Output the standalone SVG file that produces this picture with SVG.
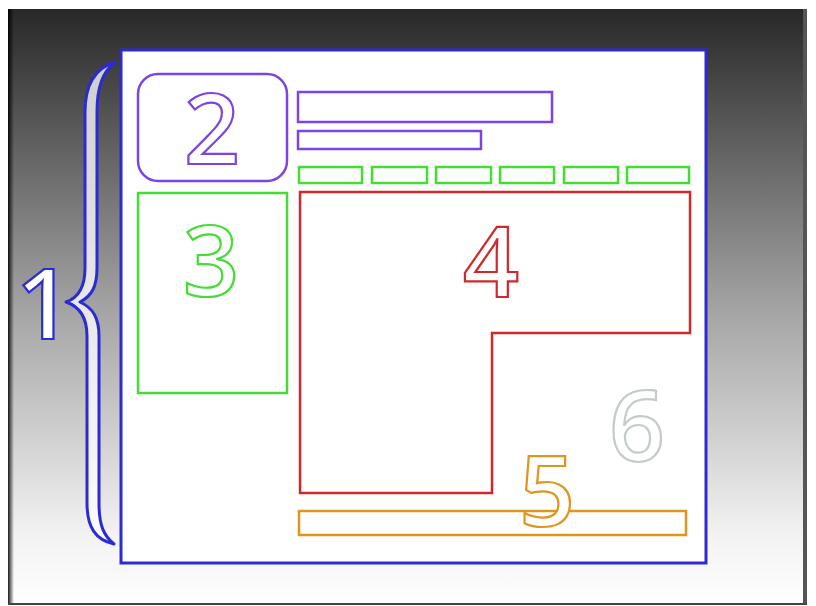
<svg xmlns="http://www.w3.org/2000/svg" width="816" height="606" viewBox="0 0 816 606">
  <defs>
    <linearGradient id="bg" x1="0" y1="0" x2="0" y2="1">
      <stop offset="0" stop-color="#282828"/>
      <stop offset="0.5" stop-color="#a3a3a3"/>
      <stop offset="0.88" stop-color="#f2f2f2"/>
      <stop offset="1" stop-color="#ffffff"/>
    </linearGradient>
    <linearGradient id="ledge" x1="0" y1="0" x2="1" y2="0">
      <stop offset="0" stop-color="#000" stop-opacity="0.9"/>
      <stop offset="1" stop-color="#000" stop-opacity="0"/>
    </linearGradient>
  </defs>
  <style>
    .box { fill: none; stroke-width: 2.5; }
    .num { font-family: "Open Sans", "Liberation Sans", sans-serif; font-size: 98px; font-weight: 600; fill: #ffffff; stroke-width: 2.2; text-anchor: middle; }
    .blue { stroke: #2b2bd6; }
    .purple { stroke: #7c45e2; }
    .green { stroke: #45dc35; }
    .red { stroke: #d0282c; }
    .orange { stroke: #e0961e; }
    .gray { stroke: #c3cbcb; }
  </style>
  <rect x="0" y="0" width="816" height="606" fill="#ffffff"/>
  <g id="frame">
    <rect x="8" y="9" width="799" height="596" fill="url(#bg)"/>
    <rect x="8" y="9" width="6" height="596" fill="url(#ledge)"/>
    <rect x="803" y="9" width="4" height="596" fill="#555"/>
    <rect x="8" y="603" width="799" height="2" fill="#444"/>
  </g>
  <g id="node1">
    <rect x="121" y="50" width="585" height="513" fill="#ffffff" stroke="#2b2bd6" stroke-width="3"/>
    <path d="M115,62 C95,68 85,84 85,112 L85,268 C85,288 78,298 66,302 C78,306 87,316 87,336 L87,503 C87,528 96,540 114,544 C104,536 99,526 99,503 L99,336 C99,318 93,308 80,302 C92,296 97,286 97,268 L97,112 C97,86 103,72 115,62 Z" fill="#ffffff" fill-opacity="0.75" stroke="#2b2bd6" stroke-width="3" stroke-linejoin="round"/>
    <text class="num blue" x="44" y="339">1</text>
  </g>
  <g id="node2">
    <rect class="box purple" x="138" y="74" width="149" height="107" rx="20"/>
    <rect class="box purple" x="298" y="92" width="254" height="30"/>
    <rect class="box purple" x="298" y="131" width="183" height="18"/>
    <text class="num purple" x="212" y="164">2</text>
  </g>
  <g id="nav">
    <rect class="box green" x="299" y="167" width="63" height="16"/>
    <rect class="box green" x="372" y="167" width="55" height="16"/>
    <rect class="box green" x="436" y="167" width="55" height="16"/>
    <rect class="box green" x="500" y="167" width="54" height="16"/>
    <rect class="box green" x="564" y="167" width="54" height="16"/>
    <rect class="box green" x="627" y="167" width="62" height="16"/>
  </g>
  <g id="node3">
    <rect class="box green" x="138" y="193" width="149" height="200"/>
    <text class="num green" x="211" y="296">3</text>
  </g>
  <g id="node4">
    <path class="box red" d="M300,192 L690,192 L690,333 L492,333 L492,493 L300,493 Z"/>
    <text class="num red" x="491" y="297">4</text>
  </g>
  <g id="node5">
    <rect class="box orange" x="299" y="511" width="387" height="24"/>
    <text class="num orange" x="547" y="526">5</text>
  </g>
  <g id="node6">
    <text class="num gray" x="637" y="461">6</text>
  </g>
  <g id="connectors"/>
</svg>
